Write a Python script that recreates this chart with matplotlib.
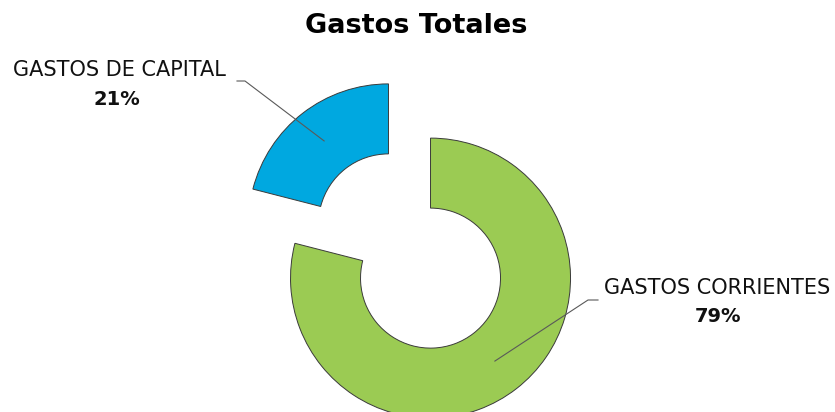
import matplotlib.pyplot as plt
import numpy as np

# === Datos ===
categorias = ['GASTOS DE CAPITAL', 'GASTOS CORRIENTES']
porcentajes = [21, 79]
etiquetas_pct = ['21%', '79%']
colores = ['#00A8E0', '#9BCB53']

# === Geometria (en pixeles de la imagen) ===
W, H = 835, 412
R = 140.0             # radio exterior
cx, cy = 409.5, 251   # centro del anillo sin separar


def px(x, y):
    return (x - cx) / R, (cy - y) / R


plt.rcParams['font.family'] = ['DejaVu Sans']

fig = plt.figure(figsize=(8.35, 4.12), dpi=100)
ax = fig.add_axes([0, 0, 1, 1])

wedges, _ = ax.pie(porcentajes, colors=colores, startangle=90, counterclock=True,
                   radius=1, explode=[0.245, 0.245],
                   wedgeprops=dict(width=0.5, edgecolor='#3a3a3a', linewidth=0.7))

ax.set_xlim(-cx / R, (W - cx) / R)
ax.set_ylim(-(H - cy) / R, cy / R)
ax.axis('off')

# lineas guia: punto medio de la porcion -> codo -> extremo
codos = [((245, 81), (237, 81)), ((588, 300), (598, 300))]
textos = [((119, 70), (117, 99)), ((717, 288), (718, 316))]

for w, cat, pct, (codo, fin), (p_cat, p_pct) in zip(wedges, categorias, etiquetas_pct, codos, textos):
    th = np.deg2rad((w.theta1 + w.theta2) / 2)
    x0 = w.center[0] + 0.75 * np.cos(th)
    y0 = w.center[1] + 0.75 * np.sin(th)
    xc, yc = px(*codo)
    xf, yf = px(*fin)
    ax.plot([x0, xc, xf], [y0, yc, yf], color='#595959', linewidth=0.8)
    ax.text(*px(*p_cat), cat, ha='center', va='center', fontsize=15, color='#111111')
    ax.text(*px(*p_pct), pct, ha='center', va='center', fontsize=14, fontweight='bold', color='#111111')

ax.text(*px(416, 26), 'Gastos Totales', ha='center', va='center',
        fontsize=19.5, fontweight='bold', color='black')

plt.savefig('out.png', dpi=100)
plt.close()
